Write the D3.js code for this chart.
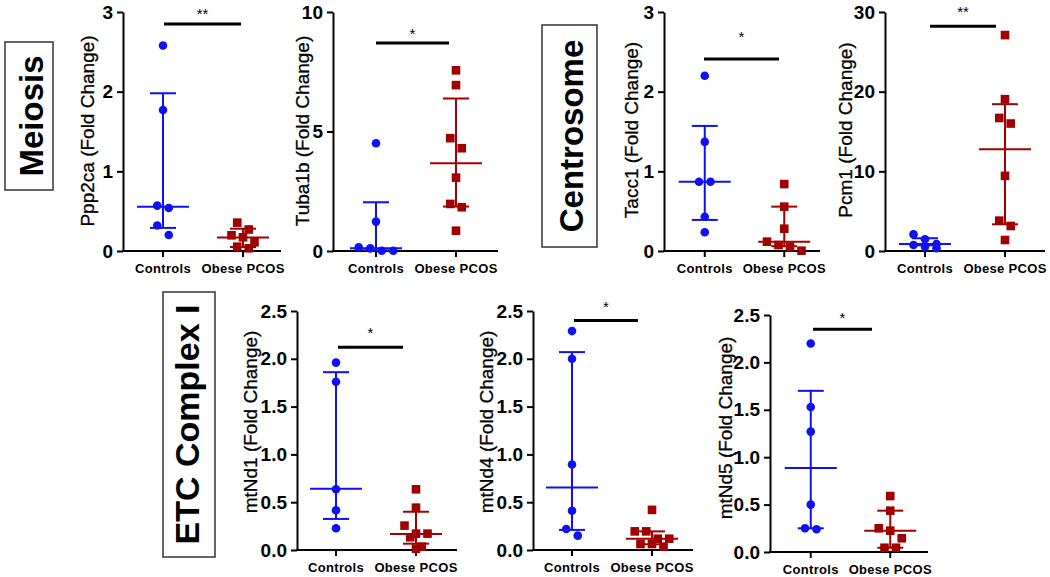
<!DOCTYPE html>
<html>
<head>
<meta charset="utf-8">
<script src="https://cdn.jsdelivr.net/npm/d3@7"></script>
<style>
  html, body { margin: 0; padding: 0; background: #fff; }
  svg { display: block; }
  text { font-family: "Liberation Sans", Arial, sans-serif; }
</style>
</head>
<body>
<svg id="chart" width="1050" height="577"></svg>
<script>
// ---------------- DATA ----------------
const categories = ["Controls", "Obese PCOS"];
const genes = ["Ppp2ca", "Tuba1b", "Tacc1", "Pcm1", "mtNd1", "mtNd4", "mtNd5"];
const yMax = [3, 10, 3, 30, 2.5, 2.5, 2.5];
const yTicks = [
  [0, 1, 2, 3],
  [0, 5, 10],
  [0, 1, 2, 3],
  [0, 10, 20, 30],
  [0, 0.5, 1, 1.5, 2, 2.5],
  [0, 0.5, 1, 1.5, 2, 2.5],
  [0, 0.5, 1, 1.5, 2, 2.5]
];
const controlsValues = [
  [2.58, 1.77, 0.57, 0.54, 0.32, 0.20],
  [4.51, 1.23, 0.15, 0.11, 0.01, 0.01],
  [2.20, 1.37, 0.87, 0.87, 0.43, 0.235],
  [2.09, 1.47, 0.88, 0.75, 0.54, 0.34],
  [1.96, 1.76, 0.635, 0.415, 0.227],
  [2.29, 2.00, 0.895, 0.41, 0.22, 0.15],
  [2.20, 1.53, 1.27, 0.50, 0.25, 0.24]
];
const obeseValues = [
  [0.356, 0.27, 0.197, 0.172, 0.109, 0.054, 0.034],
  [7.56, 6.94, 4.72, 4.30, 3.07, 1.97, 1.83, 0.85],
  [0.84, 0.557, 0.28, 0.117, 0.075, 0.054, 0.004],
  [27.1, 19.06, 16.7, 16.0, 9.43, 3.81, 3.14, 1.38],
  [0.635, 0.443, 0.255, 0.171, 0.171, 0.133, 0.035, 0.014],
  [0.42, 0.195, 0.195, 0.118, 0.118, 0.063, 0.063, 0.035],
  [0.59, 0.436, 0.25, 0.225, 0.145, 0.045, 0.045]
];
// median with interquartile range
const controlsMedian = [0.557, 0.11, 0.87, 0.88, 0.64, 0.653, 0.887];
const controlsLow    = [0.29, 0.03, 0.39, 0.72, 0.325, 0.21, 0.25];
const controlsHigh   = [1.98, 2.04, 1.57, 1.60, 1.86, 2.07, 1.70];
const obeseMedian    = [0.168, 3.67, 0.117, 12.78, 0.168, 0.118, 0.225];
const obeseLow       = [0.05, 1.86, 0.06, 3.35, 0.066, 0.06, 0.045];
const obeseHigh      = [0.28, 6.38, 0.557, 18.43, 0.40, 0.195, 0.436];
const significance = ["**", "*", "*", "**", "*", "*", "*"];
const sigLevel = [2.85, 8.7, 2.41, 28.2, 2.12, 2.40, 2.35];
const groupLabels = ["Meiosis", "Centrosome", "ETC Complex I"];

// ---------------- LAYOUT ----------------
const layout = [
  {axisX: 123, yTop: 12,  yBot: 251, xC: 163, xO: 243, xEnd: 281, titleX: 88,  titleY: 131, sx1: 164, sx2: 241, starY: 10},
  {axisX: 333, yTop: 12,  yBot: 251, xC: 376, xO: 456, xEnd: 498, titleX: 303, titleY: 131, sx1: 376, sx2: 449, starY: 30},
  {axisX: 664, yTop: 12,  yBot: 251, xC: 705, xO: 784, xEnd: 820, titleX: 632, titleY: 130, sx1: 704, sx2: 779, starY: 33},
  {axisX: 885, yTop: 12,  yBot: 251, xC: 925, xO: 1005, xEnd: 1045, titleX: 846, titleY: 130, sx1: 930, sx2: 996, starY: 8},
  {axisX: 297, yTop: 311, yBot: 550, xC: 336, xO: 416, xEnd: 457, titleX: 251, titleY: 422, sx1: 338, sx2: 403, starY: 329},
  {axisX: 533, yTop: 311, yBot: 550, xC: 572, xO: 652, xEnd: 693, titleX: 487, titleY: 422, sx1: 574, sx2: 638, starY: 303},
  {axisX: 770, yTop: 315, yBot: 552, xC: 811, xO: 890, xEnd: 928, titleX: 726, titleY: 428, sx1: 813, sx2: 872, starY: 314}
];
const boxLayout = [
  {x: 5,   y: 42,  w: 48, h: 148, base: 43,  size: 33},
  {x: 542, y: 25,  w: 55, h: 222, base: 583, size: 33},
  {x: 163, y: 292, w: 52, h: 265, base: 199, size: 34}
];
const BLUE = "#1010f5";
const RED = "#a00000";

const svg = d3.select("#chart");

// GraphPad-like scatter: points close in y share a row and spread sideways
function swarm(values, yScale, cx, rowH, spacing) {
  const order = values.map((v, i) => i).sort((a, b) => values[b] - values[a]);
  const out = new Array(values.length);
  let k = 0;
  while (k < order.length) {
    const y0 = yScale(values[order[k]]);
    const row = [order[k]];
    let j = k + 1;
    while (j < order.length && Math.abs(yScale(values[order[j]]) - y0) < rowH) { row.push(order[j]); j++; }
    row.forEach((idx, r) => {
      out[idx] = {x: cx + (r - (row.length - 1) / 2) * spacing, y: yScale(values[idx])};
    });
    k = j;
  }
  return out;
}

genes.forEach((gene, i) => {
  const L = layout[i];
  const g = svg.append("g");
  const y = d3.scaleLinear().domain([0, yMax[i]]).range([L.yBot, L.yTop]);
  const x = d3.scaleBand().domain(categories).range([L.xC - 40, L.xO + 40]).padding(0);
  const cxs = [x(categories[0]) + x.bandwidth() / 2, x(categories[1]) + x.bandwidth() / 2];
  const decimals = yTicks[i].some(t => t % 1 !== 0);

  // y axis
  const yAxis = d3.axisLeft(y).tickValues(yTicks[i]).tickSize(6).tickSizeOuter(0).tickPadding(4)
    .tickFormat(decimals ? d3.format(".1f") : d3.format("d"));
  const ya = g.append("g").attr("transform", `translate(${L.axisX},0)`).call(yAxis);
  ya.selectAll("path, line").attr("stroke", "#000").attr("stroke-width", 2);
  ya.selectAll("text").attr("font-size", 19).attr("font-weight", "bold").attr("fill", "#000")
    .attr("font-family", "Liberation Sans, Arial, sans-serif");

  // x axis
  const xAxis = d3.axisBottom(x).tickSize(6).tickSizeOuter(0).tickPadding(7);
  const xa = g.append("g").attr("transform", `translate(0,${L.yBot})`).call(xAxis);
  xa.select(".domain").remove();
  xa.selectAll("line").attr("stroke", "#000").attr("stroke-width", 2);
  xa.selectAll("text").attr("font-size", 13).attr("font-weight", "bold").attr("fill", "#000")
    .attr("letter-spacing", 0.3)
    .attr("font-family", "Liberation Sans, Arial, sans-serif");
  g.append("line").attr("x1", L.axisX - 1).attr("x2", L.xEnd)
    .attr("y1", L.yBot).attr("y2", L.yBot).attr("stroke", "#000").attr("stroke-width", 2);

  // y title
  g.append("text").attr("transform", `translate(${L.titleX + 6},${L.titleY}) rotate(-90)`)
    .attr("text-anchor", "middle").attr("font-size", 19).attr("fill", "#000")
    .attr("stroke", "#000").attr("stroke-width", 0.3)
    .text(`${gene} (Fold Change)`);

  // median + IQR
  const stats = [
    {c: cxs[0], med: controlsMedian[i], lo: controlsLow[i], hi: controlsHigh[i], col: BLUE},
    {c: cxs[1], med: obeseMedian[i], lo: obeseLow[i], hi: obeseHigh[i], col: RED}
  ];
  stats.forEach(s => {
    const sg = g.append("g").attr("stroke", s.col).attr("stroke-width", 2).attr("fill", "none");
    sg.append("line").attr("x1", s.c).attr("x2", s.c).attr("y1", y(s.lo)).attr("y2", y(s.hi));
    sg.append("line").attr("x1", s.c - 26).attr("x2", s.c + 26).attr("y1", y(s.med)).attr("y2", y(s.med));
    [s.lo, s.hi].forEach(v => {
      sg.append("line").attr("x1", s.c - 13).attr("x2", s.c + 13).attr("y1", y(v)).attr("y2", y(v));
    });
  });

  // points
  const cPts = swarm(controlsValues[i], y, cxs[0], 10.5, 11.5);
  g.append("g").selectAll("circle").data(cPts).join("circle")
    .attr("cx", d => d.x).attr("cy", d => d.y).attr("r", 4.3).attr("fill", BLUE);
  const oPts = swarm(obeseValues[i], y, cxs[1], 10.5, 11.5);
  const sq = 8.6;
  g.append("g").selectAll("rect").data(oPts).join("rect")
    .attr("x", d => d.x - sq / 2).attr("y", d => d.y - sq / 2).attr("width", sq).attr("height", sq)
    .attr("fill", RED);

  // significance
  g.append("line").attr("x1", L.sx1).attr("x2", L.sx2).attr("y1", y(sigLevel[i])).attr("y2", y(sigLevel[i]))
    .attr("stroke", "#000").attr("stroke-width", 3);
  g.append("text").attr("x", (L.sx1 + L.sx2) / 2).attr("y", L.starY + 8.5)
    .attr("text-anchor", "middle").attr("font-size", 15).attr("fill", "#000").text(significance[i]);
});

// group boxes
groupLabels.forEach((lab, i) => {
  const B = boxLayout[i];
  svg.append("rect").attr("x", B.x).attr("y", B.y).attr("width", B.w).attr("height", B.h)
    .attr("fill", "#fff").attr("stroke", "#333").attr("stroke-width", 1.5);
  svg.append("text").attr("transform", `translate(${B.base},${B.y + B.h / 2}) rotate(-90)`)
    .attr("text-anchor", "middle").attr("font-size", B.size).attr("font-weight", "bold")
    .attr("fill", "#000").text(lab);
});
</script>
</body>
</html>
